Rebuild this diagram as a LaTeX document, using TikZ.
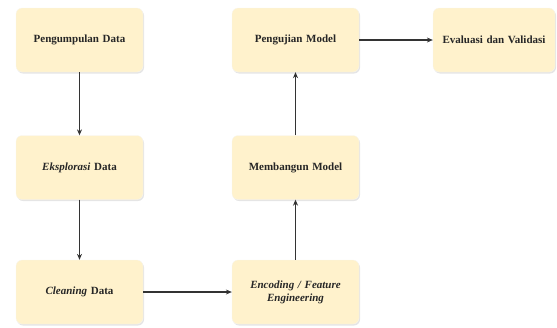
\documentclass[tikz,border=0pt]{standalone}
\usepackage{fontspec}
\setmainfont{Liberation Serif}
\usetikzlibrary{arrows.meta,shadows}
\definecolor{boxfill}{HTML}{FFF2CC}
\definecolor{arrowcol}{HTML}{333333}
\tikzset{
  stepbox/.style={rectangle, rounded corners=6pt, fill=boxfill, draw=boxfill!85!black!20,
    line width=0.3pt, minimum width=127pt, minimum height=64pt, align=center,
    font=\fontsize{11}{13}\selectfont\bfseries, text width=118pt, text=black!85,
    drop shadow={shadow xshift=1pt, shadow yshift=-1.5pt, opacity=0.25, fill=black!40}},
  flow/.style={-{Stealth[length=6pt,width=5pt]}, draw=arrowcol, line width=1.3pt}
}
\begin{document}
\begin{tikzpicture}[x=1pt,y=-1pt]
\useasboundingbox (0,0) rectangle (557,327);
\node[stepbox] (a) at (79.5,40) {Pengumpulan Data};
\node[stepbox] (b) at (79.5,167.5) {\textit{Eksplorasi} Data};
\node[stepbox] (c) at (79.5,292) {\textit{Cleaning} Data};
\node[stepbox] (d) at (295.5,292) {\textit{Encoding / Feature}\\\textit{Engineering}};
\node[stepbox] (e) at (295.5,167.5) {Membangun Model};
\node[stepbox] (f) at (295.5,40) {Pengujian Model};
\node[stepbox, minimum width=122pt, text width=114pt] (g) at (494,40) {Evaluasi dan Validasi};
\draw[flow] (a) -- (b);
\draw[flow] (b) -- (c);
\draw[flow] (c) -- (d);
\draw[flow] (d) -- (e);
\draw[flow] (e) -- (f);
\draw[flow] (f) -- (g);
\end{tikzpicture}
\end{document}
